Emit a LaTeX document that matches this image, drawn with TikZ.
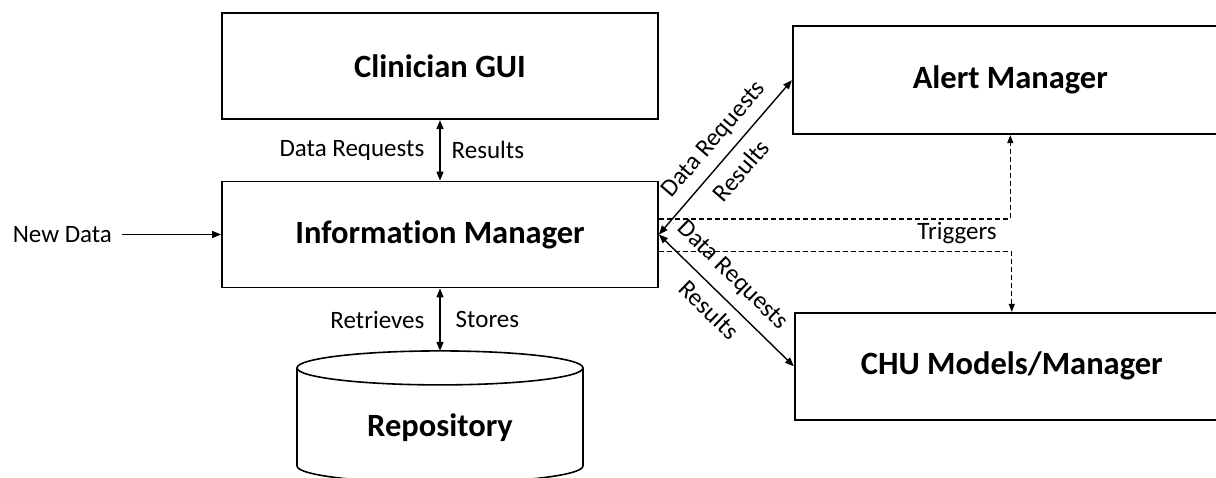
\documentclass[tikz,border=0pt]{standalone}
\usepackage{fontspec}
\setmainfont{Carlito}[Ligatures=NoCommon]
\usetikzlibrary{positioning,arrows.meta}

\begin{document}
\begin{tikzpicture}[x=1pt,y=-1pt,
  box/.style={draw,line width=1.8pt,minimum width=436pt,minimum height=106pt,
    font=\fontsize{32.5}{38}\selectfont\bfseries},
  lbl/.style={font=\fontsize{25}{29}\selectfont,inner sep=3pt},
  link/.style={line width=1.4pt,{Triangle[length=9pt,width=7pt]}-{Triangle[length=9pt,width=7pt]}},
  trig/.style={line width=1.1pt,dash pattern=on 5pt off 3pt,-{Triangle[length=8pt,width=6pt]}}]
\useasboundingbox (0,0) rectangle (1216,477);
% boxes
\node[box] (info) at (440,234.5) {Information Manager};
\node[box,above=60.5pt of info] (gui) {Clinician GUI};
\node[box,minimum width=435pt,minimum height=108pt,
  above right=45.5pt and 133pt of info.north east] (alert) {Alert Manager};
\node[box,minimum width=434pt,minimum height=107pt,
  below right=23.5pt and 135pt of info.south east] (chu) {CHU Models/Manager};
% repository drum
\coordinate[below=62.5pt of info] (repotop);
\node[font=\fontsize{32.5}{38}\selectfont\bfseries] (repo) at ([yshift=-77pt]repotop) {Repository};
\draw[line width=1.6pt] ([yshift=-17pt]repotop) ellipse [x radius=143pt,y radius=17pt];
\draw[line width=1.6pt] ([xshift=-143pt,yshift=-17pt]repotop) -- ++(0,98)
  arc [start angle=180,end angle=360,x radius=143pt,y radius=17pt] -- ++(0,-98);
\node[lbl,left=106pt of info] (new) {New Data};
\node[lbl] (trg) at (957,233) {Triggers};
% connectors
\draw[line width=1.4pt,-{Triangle[length=9pt,width=7pt]},shorten <=7pt] (new) -- (info);
\draw[link] (gui) -- (info) node[lbl,midway,left=12pt] {Data Requests}
  node[lbl,midway,right=8pt] {Results};
\draw[link] (info) -- (repotop) node[lbl,midway,left=12pt] {Retrieves}
  node[lbl,midway,right=12pt] {Stores};
\draw[link] (info.east) -- (alert.west)
  node[lbl,sloped,above=6pt,pos=0.53] {Data Requests}
  node[lbl,sloped,below=8pt,pos=0.5] {Results};
\draw[link] (info.east) -- (chu.west)
  node[lbl,sloped,above=8pt,pos=0.43] {Data Requests}
  node[lbl,sloped,below=6pt,pos=0.47] {Results};
\draw[trig] ([yshift=15.5pt]info.east) -| (alert.south);
\draw[trig] ([yshift=-17pt]info.east) -| (chu.north);
\end{tikzpicture}
\end{document}
